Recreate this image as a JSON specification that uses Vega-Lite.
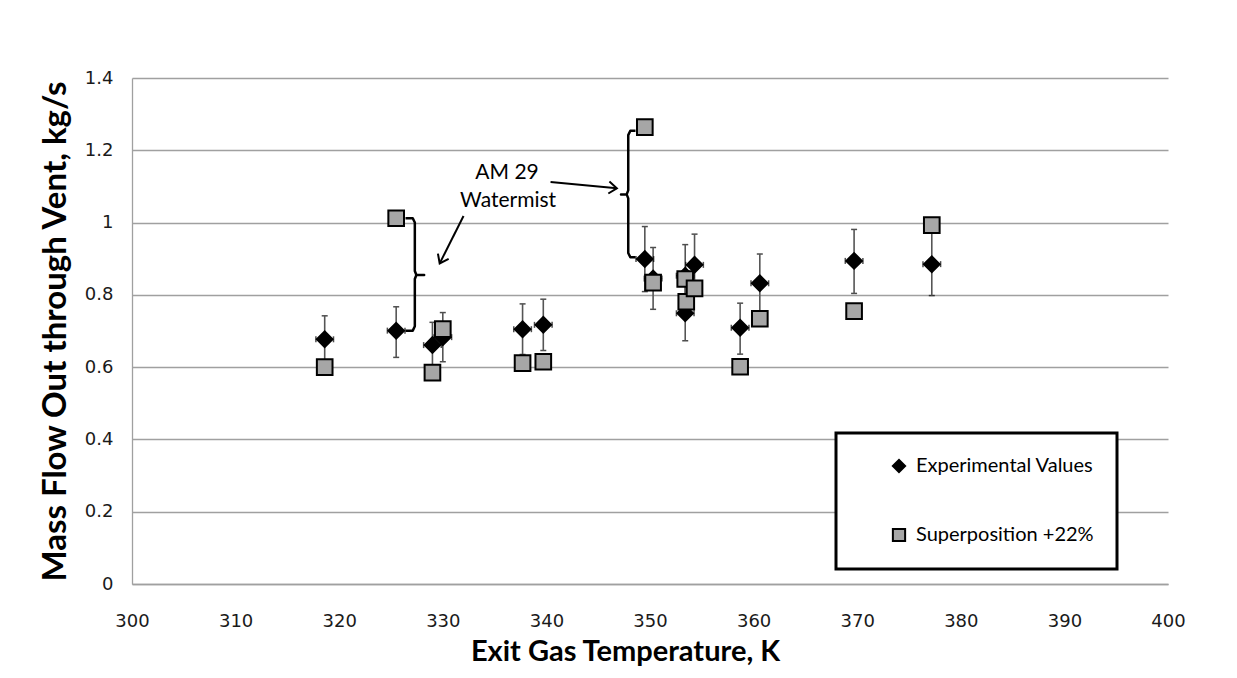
{
  "$schema": "https://vega.github.io/schema/vega-lite/v6.json",
  "width": 1036,
  "height": 506,
  "autosize": {"type": "none"},
  "padding": {"left": 132, "top": 78, "right": 69, "bottom": 94},
  "background": "#ffffff",
  "config": {
    "view": {"stroke": null},
    "legend": {
      "padding": 23,
      "rowPadding": 47,
      "symbolOffset": 30,
      "labelOffset": 7,
      "labelFont": "Lato",
      "labelFontSize": 20,
      "labelLimit": 400,
      "labelColor": "#000000",
      "strokeColor": "#000000",
      "strokeWidth": 3,
      "fillColor": "#ffffff",
      "symbolSize": 150,
      "symbolStrokeWidth": 2
    }
  },
  "datasets": {
    "points": [
      {"series": "Experimental Values", "T": 318.6, "m": 0.677, "lo": 0.612, "hi": 0.742, "dT": 0.85},
      {"series": "Experimental Values", "T": 325.5, "m": 0.701, "lo": 0.627, "hi": 0.767, "dT": 0.85},
      {"series": "Experimental Values", "T": 329.0, "m": 0.661, "lo": 0.598, "hi": 0.724, "dT": 0.85},
      {"series": "Experimental Values", "T": 330.0, "m": 0.683, "lo": 0.615, "hi": 0.751, "dT": 0.85},
      {"series": "Experimental Values", "T": 337.7, "m": 0.705, "lo": 0.635, "hi": 0.775, "dT": 0.85},
      {"series": "Experimental Values", "T": 339.7, "m": 0.717, "lo": 0.646, "hi": 0.788, "dT": 0.85},
      {"series": "Experimental Values", "T": 349.5, "m": 0.899, "lo": 0.809, "hi": 0.989, "dT": 0.85},
      {"series": "Experimental Values", "T": 350.3, "m": 0.845, "lo": 0.760, "hi": 0.931, "dT": 0.85},
      {"series": "Experimental Values", "T": 353.4, "m": 0.853, "lo": 0.768, "hi": 0.939, "dT": 0.85},
      {"series": "Experimental Values", "T": 353.4, "m": 0.749, "lo": 0.673, "hi": 0.824, "dT": 0.85},
      {"series": "Experimental Values", "T": 354.3, "m": 0.883, "lo": 0.798, "hi": 0.968, "dT": 0.85},
      {"series": "Experimental Values", "T": 358.7, "m": 0.709, "lo": 0.636, "hi": 0.777, "dT": 0.85},
      {"series": "Experimental Values", "T": 360.6, "m": 0.832, "lo": 0.751, "hi": 0.913, "dT": 0.85},
      {"series": "Experimental Values", "T": 369.7, "m": 0.894, "lo": 0.804, "hi": 0.981, "dT": 0.85},
      {"series": "Experimental Values", "T": 377.2, "m": 0.885, "lo": 0.798, "hi": 0.972, "dT": 0.85},
      {"series": "Superposition +22%", "T": 318.6, "m": 0.600},
      {"series": "Superposition +22%", "T": 325.5, "m": 1.012},
      {"series": "Superposition +22%", "T": 329.0, "m": 0.585},
      {"series": "Superposition +22%", "T": 330.0, "m": 0.705},
      {"series": "Superposition +22%", "T": 337.7, "m": 0.611},
      {"series": "Superposition +22%", "T": 339.7, "m": 0.615},
      {"series": "Superposition +22%", "T": 349.5, "m": 1.264},
      {"series": "Superposition +22%", "T": 350.3, "m": 0.834},
      {"series": "Superposition +22%", "T": 353.4, "m": 0.844},
      {"series": "Superposition +22%", "T": 353.5, "m": 0.781},
      {"series": "Superposition +22%", "T": 354.3, "m": 0.818},
      {"series": "Superposition +22%", "T": 358.7, "m": 0.601},
      {"series": "Superposition +22%", "T": 360.6, "m": 0.734},
      {"series": "Superposition +22%", "T": 369.7, "m": 0.755},
      {"series": "Superposition +22%", "T": 377.2, "m": 0.993}
    ],
    "brackets": [
      {"id": "b1", "k": 1, "T": 326.4, "m": 1.012},
      {"id": "b1", "k": 2, "T": 327.1, "m": 1.012},
      {"id": "b1", "k": 3, "T": 327.3, "m": 1.0},
      {"id": "b1", "k": 4, "T": 327.3, "m": 0.866},
      {"id": "b1", "k": 5, "T": 327.45, "m": 0.855},
      {"id": "b1", "k": 6, "T": 328.2, "m": 0.855},
      {"id": "b1", "k": 7, "T": 327.45, "m": 0.855},
      {"id": "b1", "k": 8, "T": 327.3, "m": 0.844},
      {"id": "b1", "k": 9, "T": 327.3, "m": 0.713},
      {"id": "b1", "k": 10, "T": 327.1, "m": 0.701},
      {"id": "b1", "k": 11, "T": 326.4, "m": 0.701},
      {"id": "b2", "k": 1, "T": 348.6, "m": 1.254},
      {"id": "b2", "k": 2, "T": 348.1, "m": 1.254},
      {"id": "b2", "k": 3, "T": 347.9, "m": 1.242},
      {"id": "b2", "k": 4, "T": 347.9, "m": 1.089},
      {"id": "b2", "k": 5, "T": 347.75, "m": 1.078},
      {"id": "b2", "k": 6, "T": 347.2, "m": 1.078},
      {"id": "b2", "k": 7, "T": 347.75, "m": 1.078},
      {"id": "b2", "k": 8, "T": 347.9, "m": 1.067},
      {"id": "b2", "k": 9, "T": 347.9, "m": 0.916},
      {"id": "b2", "k": 10, "T": 348.1, "m": 0.904},
      {"id": "b2", "k": 11, "T": 348.6, "m": 0.904}
    ],
    "arrows": [
      {"id": "a1", "k": 1, "T": 332.0, "m": 1.018},
      {"id": "a1", "k": 2, "T": 329.7, "m": 0.887},
      {"id": "a2", "k": 1, "T": 340.4, "m": 1.112},
      {"id": "a2", "k": 2, "T": 346.8, "m": 1.095}
    ],
    "notes": [
      {"label": "AM 29", "T": 336.2, "m": 1.138},
      {"label": "Watermist", "T": 336.3, "m": 1.060}
    ]
  },
  "encoding": {
    "x": {
      "field": "T",
      "type": "quantitative",
      "scale": {"domain": [300, 400], "nice": false, "zero": false},
      "axis": {
        "title": "Exit Gas Temperature, K",
        "values": [300, 310, 320, 330, 340, 350, 360, 370, 380, 390, 400],
        "format": "d",
        "grid": false,
        "ticks": false,
        "domainColor": "#a0a0a0",
        "domainWidth": 1.3,
        "labelFont": "DejaVu Sans",
        "labelFontSize": 18,
        "labelColor": "#1a1a1a",
        "labelPadding": 28,
        "labelDx": 3,
        "labelFlush": false,
        "titleFont": "Lato",
        "titleFontWeight": "bold",
        "titleFontSize": 29,
        "titleColor": "#000000",
        "titleX": 493,
        "titleY": 76,
        "titleAlign": "center",
        "titleBaseline": "alphabetic"
      }
    },
    "y": {
      "field": "m",
      "type": "quantitative",
      "scale": {"domain": [0, 1.4], "nice": false},
      "axis": {
        "title": "Mass Flow Out through Vent, kg/s",
        "values": [0, 0.2, 0.4, 0.6, 0.8, 1.0, 1.2, 1.4],
        "format": "~g",
        "grid": true,
        "gridColor": "#a0a0a0",
        "gridWidth": 1.3,
        "ticks": false,
        "domainColor": "#a0a0a0",
        "domainWidth": 1.3,
        "labelFont": "DejaVu Sans",
        "labelFontSize": 18,
        "labelColor": "#1a1a1a",
        "labelPadding": 19,
        "titleFont": "Lato",
        "titleFontWeight": "bold",
        "titleFontSize": 33,
        "titleColor": "#000000",
        "titleAngle": -90,
        "titleX": -67,
        "titleY": 253,
        "titleAlign": "center",
        "titleBaseline": "alphabetic"
      }
    }
  },
  "layer": [
    {
      "data": {"name": "brackets"},
      "mark": {"type": "line", "color": "#000000", "strokeWidth": 2.5, "strokeJoin": "round"},
      "encoding": {
        "detail": {"field": "id"},
        "order": {"field": "k", "type": "quantitative"}
      }
    },
    {
      "data": {"name": "arrows"},
      "mark": {"type": "line", "color": "#000000", "strokeWidth": 2},
      "encoding": {
        "detail": {"field": "id"},
        "order": {"field": "k", "type": "quantitative"}
      }
    },
    {
      "data": {"name": "arrows"},
      "transform": [{"filter": "datum.id === 'a1' && datum.k === 2"}],
      "mark": {"type": "point", "shape": "M-1,-0.75L0,0L-1,0.75", "filled": false, "stroke": "#000000", "strokeWidth": 2, "size": 256, "angle": 116.7, "opacity": 1}
    },
    {
      "data": {"name": "arrows"},
      "transform": [{"filter": "datum.id === 'a2' && datum.k === 2"}],
      "mark": {"type": "point", "shape": "M-1,-0.75L0,0L-1,0.75", "filled": false, "stroke": "#000000", "strokeWidth": 2, "size": 256, "angle": 5.2, "opacity": 1}
    },
    {
      "data": {"name": "points"},
      "transform": [{"filter": "datum.series === 'Experimental Values'"}],
      "mark": {
        "type": "errorbar",
        "ticks": {"size": 6, "color": "#000000", "thickness": 1.5},
        "rule": {"color": "#555555", "strokeWidth": 1.6}
      },
      "encoding": {
        "y": {"field": "lo", "type": "quantitative"},
        "y2": {"field": "hi"}
      }
    },
    {
      "data": {"name": "points"},
      "transform": [{"filter": "datum.series === 'Experimental Values'"}],
      "mark": {
        "type": "errorbar",
        "ticks": {"size": 6, "color": "#000000", "thickness": 1.5},
        "rule": {"color": "#555555", "strokeWidth": 1.6}
      },
      "encoding": {
        "xError": {"field": "dT"}
      }
    },
    {
      "data": {"name": "points"},
      "mark": {"type": "point", "filled": false, "strokeWidth": 2, "size": 245, "opacity": 1, "fillOpacity": 1, "strokeOpacity": 1},
      "encoding": {
        "shape": {
          "field": "series",
          "type": "nominal",
          "scale": {"domain": ["Experimental Values", "Superposition +22%"], "range": ["diamond", "square"]},
          "legend": {"title": null, "orient": "none", "legendX": 704, "legendY": 355, "direction": "vertical"}
        },
        "fill": {
          "field": "series",
          "type": "nominal",
          "scale": {"domain": ["Experimental Values", "Superposition +22%"], "range": ["#000000", "#a6a6a6"]},
          "legend": {"title": null, "orient": "none", "legendX": 704, "legendY": 355, "direction": "vertical"}
        },
        "stroke": {
          "field": "series",
          "type": "nominal",
          "scale": {"domain": ["Experimental Values", "Superposition +22%"], "range": ["#000000", "#000000"]},
          "legend": {"title": null, "orient": "none", "legendX": 704, "legendY": 355, "direction": "vertical"}
        }
      }
    },
    {
      "data": {"name": "notes"},
      "mark": {"type": "text", "font": "Lato", "fontSize": 21, "color": "#000000", "align": "center", "baseline": "middle"},
      "encoding": {
        "text": {"field": "label"}
      }
    }
  ]
}
